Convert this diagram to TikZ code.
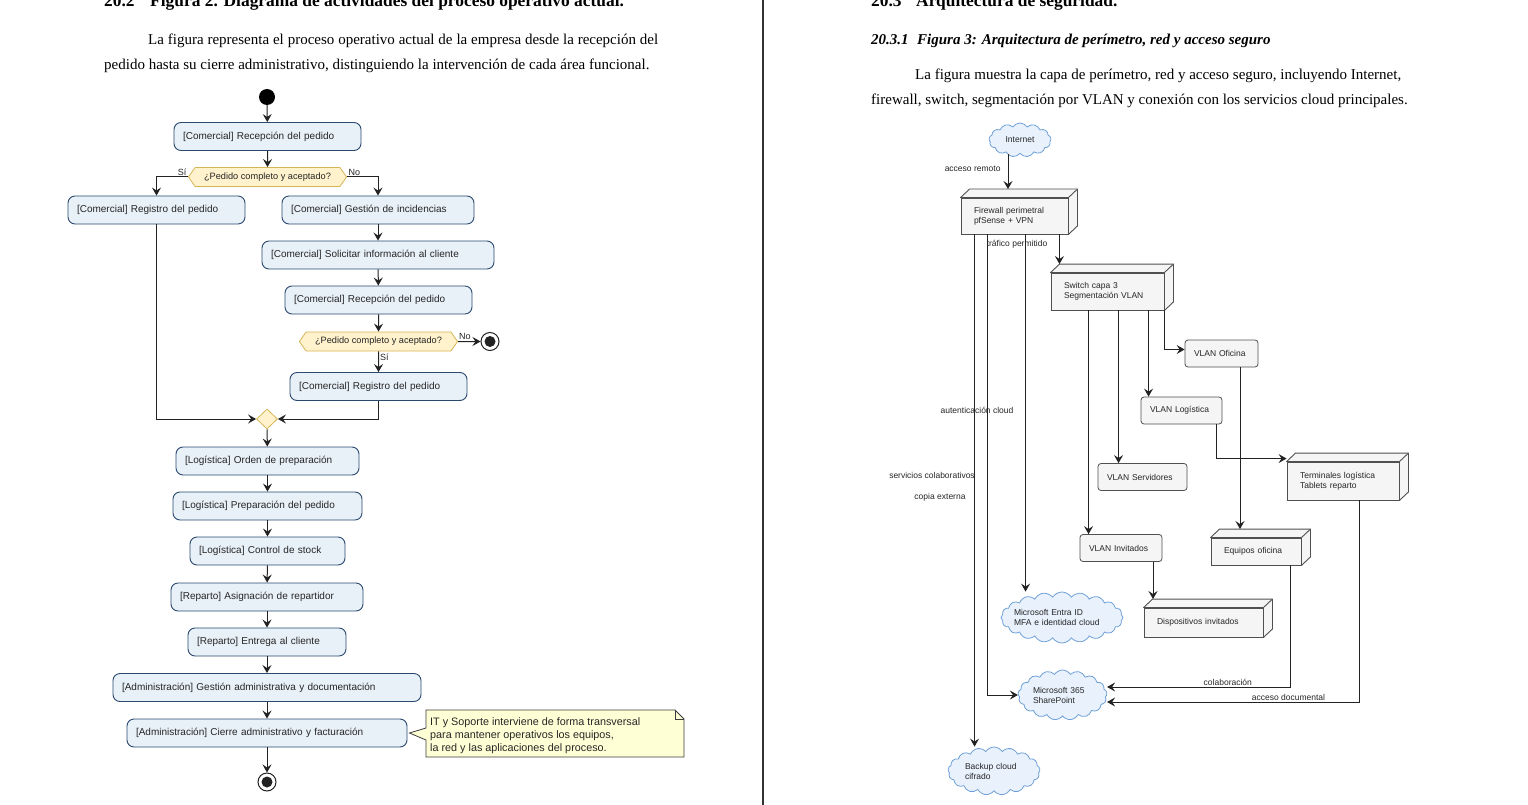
\documentclass[tikz,border=0pt]{standalone}
\usepackage{fontspec}
\setmainfont{Liberation Serif}
\newfontfamily\arialfont{Liberation Sans}
\usetikzlibrary{arrows.meta, shapes.geometric, shapes.symbols, positioning}

\definecolor{actfill}{RGB}{232,240,248}
\definecolor{actline}{RGB}{44,74,112}
\definecolor{decfill}{RGB}{255,242,204}
\definecolor{decline}{RGB}{214,182,86}
\definecolor{notefill}{RGB}{255,255,214}
\definecolor{noteline}{RGB}{60,60,60}
\definecolor{netfill}{RGB}{245,245,245}
\definecolor{netline}{RGB}{80,80,80}
\definecolor{cloudfill}{RGB}{232,241,252}
\definecolor{cloudline}{RGB}{110,160,215}
\definecolor{linea}{RGB}{34,34,34}

\tikzset{
    act/.style={rectangle, rounded corners=7pt, draw=actline, fill=actfill, line width=0.9pt,
        font=\arialfont\fontsize{10}{12}\selectfont, text=black!85, align=left,
        inner xsep=9pt, inner ysep=0pt, minimum height=28pt},
    dec/.style={signal, signal to=east and west, signal pointer angle=110, draw=decline,
        fill=decfill, line width=0.8pt, font=\arialfont\fontsize{9.2}{11}\selectfont,
        text=black!85, inner xsep=9pt, inner ysep=0pt, minimum height=19pt},
    decision/.style={diamond, draw=decline, fill=decfill, line width=0.8pt,
        minimum width=21pt, minimum height=20pt, inner sep=0pt},
    nodoini/.style={circle, fill=black, minimum size=16pt, inner sep=0pt},
    nodofin/.style={circle, draw=linea, fill=white, line width=1pt, minimum size=18pt, inner sep=0pt,
        path picture={\fill[linea] (path picture bounding box.center) circle[radius=5.5pt];}},
    etiq/.style={font=\arialfont\fontsize{9}{10}\selectfont, text=black!85, inner sep=1pt},
    flecha/.style={->, draw=linea, line width=1pt},
    vlan/.style={rectangle, rounded corners=3pt, draw=netline, fill=netfill, line width=0.8pt,
        font=\arialfont\fontsize{8.5}{10}\selectfont, text=black!85, align=left,
        inner xsep=9pt, inner ysep=0pt, minimum height=27pt},
    cubo/.style={rectangle, draw=netline, fill=netfill, line width=0.9pt,
        font=\arialfont\fontsize{8.5}{10}\selectfont, text=black!85, align=left,
        inner xsep=13pt, inner ysep=0pt},
    cubocara/.style={draw=netline, fill=netfill, line width=0.9pt, line join=round},
    nube/.style={cloud, cloud puffs=20, cloud puff arc=115, cloud ignores aspect,
        draw=cloudline, fill=cloudfill, line width=0.8pt, inner sep=0pt},
    nubetxt/.style={font=\arialfont\fontsize{8.5}{10}\selectfont, text=black!85, align=left, inner sep=0pt},
    nlbl/.style={font=\arialfont\fontsize{8.5}{10}\selectfont, text=black!85, inner sep=1pt},
    cuerpo/.style={inner sep=0pt, font=\fontsize{15}{18}\selectfont},
    titulo/.style={inner sep=0pt, font=\bfseries\fontsize{17.4}{20}\selectfont},
    subtit/.style={inner sep=0pt, font=\bfseries\itshape\fontsize{15}{18}\selectfont}
}

\begin{document}
\begin{tikzpicture}[x=1pt, y=-1pt, >={Stealth[length=8pt, width=9pt, inset=3pt]}]
    \useasboundingbox (0,0) rectangle (1528,805);
    \clip (0,0) rectangle (1528,805);
    \fill[white] (0,0) rectangle (1528,805);

    % page texts
    \node[titulo, anchor=base west] (t1n) at (104,6.5) {20.2};
    \node[titulo, anchor=base west] (t1) at (150,6.5) {Figura 2. Diagrama de actividades del proceso operativo actual.};
    \node[cuerpo, anchor=base west] (p1a) at (148,45) {\makebox[510pt][s]{La figura representa el proceso operativo actual de la empresa desde la recepción del}};
    \node[cuerpo, anchor=base west] (p1b) at (104,70) {pedido hasta su cierre administrativo, distinguiendo la intervención de cada área funcional.};

    \node[titulo, anchor=base west] (t2n) at (871,6.5) {20.3};
    \node[titulo, anchor=base west] (t2) at (916,6.5) {Arquitectura de seguridad.};
    \node[subtit, anchor=base west] (s2n) at (871,45) {20.3.1};
    \node[subtit, anchor=base west] (s2) at (917,45) {Figura 3: Arquitectura de perímetro, red y acceso seguro};
    \node[cuerpo, anchor=base west] (p2a) at (915,80) {\makebox[486pt][s]{La figura muestra la capa de perímetro, red y acceso seguro, incluyendo Internet,}};
    \node[cuerpo, anchor=base west] (p2b) at (871,105) {firewall, switch, segmentación por VLAN y conexión con los servicios cloud principales.};

    \draw[line width=1.2pt, black!80] (763,0) -- (763,805);

    % activity diagram
    \node[nodoini] (inicio) at (267,97) {};
    \node[act, text width=169pt] (recep) at (267.5,136.5) {[Comercial] Recepción del pedido};
    \node[dec] (dec1) at (267.5,177) {¿Pedido completo y aceptado?};
    \node[act, text width=159pt] (reg1) at (156.5,210) {[Comercial] Registro del pedido};
    \node[act, text width=174pt] (incid) at (378,210) {[Comercial] Gestión de incidencias};
    \node[act, text width=214pt] (solic) at (378,255) {[Comercial] Solicitar información al cliente};
    \node[act, text width=169pt] (recep2) at (378.5,300) {[Comercial] Recepción del pedido};
    \node[dec] (dec2) at (378.5,341.5) {¿Pedido completo y aceptado?};
    \node[nodofin] (fin1) at (490,341.5) {};
    \node[act, text width=159pt] (reg2) at (378.5,386.5) {[Comercial] Registro del pedido};
    \node[decision] (fusion) at (267,419) {};
    \node[act, text width=165pt] (orden) at (267.5,461) {[Logística] Orden de preparación};
    \node[act, text width=171pt] (prepa) at (267.5,506) {[Logística] Preparación del pedido};
    \node[act, text width=137pt] (stock) at (267.5,551) {[Logística] Control de stock};
    \node[act, text width=174pt] (asign) at (267,597) {[Reparto] Asignación de repartidor};
    \node[act, text width=140pt] (entrega) at (267,642) {[Reparto] Entrega al cliente};
    \node[act, text width=290pt] (gestion) at (267,687.5) {[Administración] Gestión administrativa y documentación};
    \node[act, text width=262pt] (cierre) at (267,733) {[Administración] Cierre administrativo y facturación};
    \node[nodofin] (fin2) at (267,782) {};

    \draw[flecha] (inicio) -- (recep);
    \draw[flecha] (recep) -- (dec1);
    \draw[flecha] (dec1.west) -| (reg1) node[etiq, pos=0, above left=0pt] {Sí};
    \draw[flecha] (dec1.east) -| (incid) node[etiq, pos=0, above right=0pt] {No};
    \draw[flecha] (incid) -- (solic);
    \draw[flecha] (solic) -- (recep2);
    \draw[flecha] (recep2) -- (dec2);
    \draw[flecha] (dec2) -- (reg2) node[etiq, pos=0.3, right=0pt] {Sí};
    \draw[flecha] (dec2) -- (fin1) node[etiq, pos=0.3, above=0pt] {No};
    \draw[flecha] (reg1) |- (fusion);
    \draw[flecha] (reg2) |- (fusion);
    \draw[flecha] (fusion) -- (orden);
    \draw[flecha] (orden) -- (prepa);
    \draw[flecha] (prepa) -- (stock);
    \draw[flecha] (stock) -- (asign);
    \draw[flecha] (asign) -- (entrega);
    \draw[flecha] (entrega) -- (gestion);
    \draw[flecha] (gestion) -- (cierre);
    \draw[flecha] (cierre) -- (fin2);

    % note with pointer
    \draw[fill=notefill, draw=noteline, line width=0.8pt] (426,710) -- (675,710) -- (684,719) -- (684,757)
        -- (426,757) -- (426,740) -- ([xshift=2pt]cierre.east) -- (426,728) -- cycle;
    \draw[draw=noteline, line width=0.8pt] (675,710) -- (675,719) -- (684,719);
    \node[etiq, font=\arialfont\fontsize{10.8}{13}\selectfont, align=left, inner sep=0pt, anchor=north west]
        (notatexto) at (430,717) {IT y Soporte interviene de forma transversal\\para mantener operativos los equipos,\\la red y las aplicaciones del proceso.};

    % network architecture
    \node[nube, cloud puffs=13, minimum width=62pt, minimum height=34pt,
        label={[nubetxt]center:Internet}] (inet) at (1020,140) {};
    \node[cubo, text width=81pt, minimum height=36pt] (fw) at (1014.5,216) {Firewall perimetral\\pfSense + VPN};
    \node[cubo, text width=87pt, minimum height=37pt] (sw) at (1107.5,291.5) {Switch capa 3\\Segmentación VLAN};
    \node[vlan, text width=55pt] (ofi) at (1221.5,353.5) {VLAN Oficina};
    \node[vlan, text width=63pt] (vlog) at (1181.5,410.5) {VLAN Logística};
    \node[vlan, text width=71pt] (serv) at (1142.5,477) {VLAN Servidores};
    \node[vlan, text width=64pt] (invi) at (1121,548) {VLAN Invitados};
    \node[cubo, text width=86pt, minimum height=38pt] (term) at (1343,481) {Terminales logística\\Tablets reparto};
    \node[cubo, text width=64pt, minimum height=27pt] (equ) at (1256,551.5) {Equipos oficina};
    \node[cubo, text width=93pt, minimum height=29pt] (disp) at (1203.5,622.5) {Dispositivos invitados};
    \node[nube, minimum width=122pt, minimum height=51pt,
        label={[nubetxt, text width=96pt]center:Microsoft Entra ID\\MFA e identidad cloud}] (entra) at (1062,617.5) {};
    \node[nube, cloud puffs=17, minimum width=89pt, minimum height=50pt,
        label={[nubetxt, text width=59pt]center:Microsoft 365\\SharePoint}] (sp) at (1062.5,695) {};
    \node[nube, cloud puffs=17, minimum width=92pt, minimum height=48pt,
        label={[nubetxt, text width=58pt]center:Backup cloud\\cifrado}] (bak) at (994,771) {};

    \foreach \n in {fw, sw, term, equ, disp} {
        \draw[cubocara] (\n.north west) -- ++(9,-8.5) -- ([shift={(9,-8.5)}]\n.north east)
            -- ([shift={(9,-8.5)}]\n.south east) -- (\n.south east) -- (\n.north east) -- cycle;
        \draw[cubocara] (\n.north east) -- ++(9,-8.5);
        \coordinate (\n-top) at ([yshift=8.5pt]\n.north);
    }

    \draw[flecha] ([xshift=-12pt]inet.south) -- ([xshift=-12pt]inet.south |- fw-top)
        node[nlbl, pos=0.42, left=6pt] {acceso remoto};
    \draw[flecha] ([xshift=-9pt]fw.south east) -- ([xshift=-9pt]fw.south east |- sw-top);
    \draw[flecha] ([xshift=14pt]fw.south west) -- ([xshift=14pt]fw.south west |- bak.north);
    \draw[flecha] ([xshift=27pt]fw.south west) |- (sp.west);
    \draw[flecha] ([xshift=65pt]fw.south west) -- ([xshift=65pt]fw.south west |- entra.north);
    \node[nlbl] (ltrafico) at (1017,244) {tráfico permitido};
    \node[nlbl] (lauth) at (977,410) {autenticación cloud};
    \node[nlbl] (lcolab) at (932,475) {servicios colaborativos};
    \node[nlbl] (lcopia) at (940,497) {copia externa};

    \draw[flecha] ([xshift=38pt]sw.south west) -- ([xshift=38pt]sw.south west |- invi.north);
    \draw[flecha] ([xshift=68pt]sw.south west) -- ([xshift=68pt]sw.south west |- serv.north);
    \draw[flecha] ([xshift=98pt]sw.south west) -- ([xshift=98pt]sw.south west |- vlog.north);
    \draw[flecha] (sw.south east) |- ([yshift=4pt]ofi.west);
    \draw[flecha] ([xshift=18.5pt]ofi.south) -- ([xshift=18.5pt]ofi.south |- equ-top);
    \draw[flecha] ([xshift=34.5pt]vlog.south) |- ([yshift=3pt]term.north west);
    \draw[flecha] ([xshift=32pt]invi.south) -- ([xshift=32pt]invi.south |- disp-top);
    \draw[flecha] ([xshift=34pt]equ.south) |- ([yshift=8pt]sp.east)
        node[nlbl, pos=0.67, above] {colaboración};
    \draw[flecha] ([xshift=16pt]term.south) |- ([yshift=-7pt]sp.east)
        node[nlbl, pos=0.64, above] {acceso documental};
\end{tikzpicture}
\end{document}
